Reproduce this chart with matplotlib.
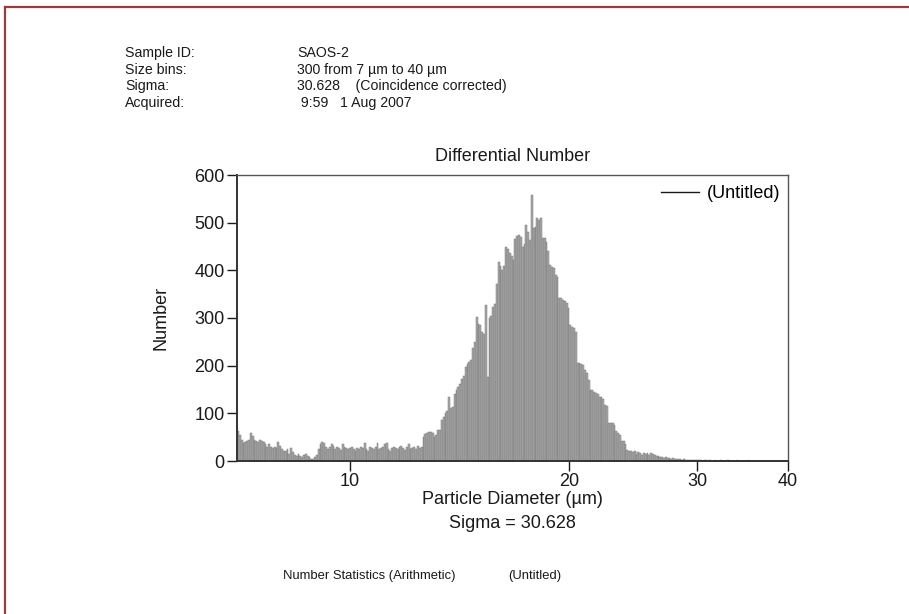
import numpy as np
import matplotlib
matplotlib.use('Agg')
import matplotlib.pyplot as plt
from matplotlib.lines import Line2D
from matplotlib.ticker import FixedLocator, NullLocator

plt.rcParams['font.family'] = ['Liberation Sans', 'DejaVu Sans']

# header info
hdr_keys = ['Sample ID:', 'Size bins:', 'Sigma:', 'Acquired:']
hdr_vals = ['SAOS-2', '300 from 7 \u00b5m to 40 \u00b5m',
            '30.628    (Coincidence corrected)', ' 9:59   1 Aug 2007']

# size bins (log spaced, 300 from 7 to 40 um)
d_min = 7.0
d_max = 40.0
n_bins = 300

# counts per bin
low_part = [62, 55, 45, 38, 40, 42,
            45, 58, 52, 45, 42,
            40, 45, 42, 40, 35, 30, 35, 30, 28,
            30, 28, 40, 32, 25, 20, 22, 25,
            15, 28, 18, 12, 10,
            15, 10, 8, 12, 15, 10, 8, 5, 5,
            8, 12, 25, 35, 40, 38, 30,
            25, 30, 35, 32, 25, 30, 28, 24,
            35, 30, 28, 25, 28, 30, 25, 22, 28,
            25, 30, 28, 38, 25, 22, 30, 27, 25,
            30, 38, 25, 28, 30, 35, 38, 25, 22, 28,
            30, 28, 25, 30, 32, 28, 24, 30, 35, 25, 28, 30, 25, 32, 27, 30]
rise_part = [50, 57, 58, 60, 60, 58, 50, 55, 64, 66,
             85, 92, 100, 105, 134, 112, 113, 140, 148, 155,
             162, 172, 178, 198, 203, 208, 212, 238, 250, 302,
             288, 285, 271, 266, 327, 176, 300, 305, 323, 330,
             372, 417, 410]
peak_part = [401, 410, 450, 445, 437, 430, 422, 465, 471, 474,
             470, 450, 455, 495, 480, 464, 558, 488, 490, 509,
             505, 509, 467, 467, 460, 440, 411, 408, 405, 390,
             385, 341, 341, 338, 335, 331, 320, 285, 282, 278,
             270, 205, 205, 203, 201, 190, 184, 170, 149, 149,
             145, 142, 140, 135, 135, 130, 117, 115, 79, 79,
             79, 75, 62, 58, 55, 41, 41, 35, 23, 22,
             20, 18, 20, 15, 18, 16, 12, 17, 14, 16,
             12, 16, 14, 12, 10]
tail_part = [10, 8, 9, 7, 8,
             6, 7, 5, 6, 4, 5, 4, 5, 3,
             4, 3, 3, 2, 3, 2, 2, 3,
             2, 2, 1, 2, 2, 1, 2, 1, 1, 2,
             1, 1, 2, 1, 1, 1, 2, 1, 1, 1,
             1, 2, 1, 1, 1, 1, 1, 2, 1, 1,
             1, 1, 1, 0, 1, 1, 1, 0, 1, 1,
             1, 0, 1, 0, 1, 1, 0, 1, 0]
counts = np.array(low_part + rise_part + peak_part + tail_part, dtype=float)

edges = np.geomspace(d_min, d_max, len(counts) + 1)

fig = plt.figure(figsize=(9.09, 6.14), dpi=100)
W, H = 909.0, 614.0
ink = '#1a1a1a'

# dark red frame lines (left / top)
fig.add_artist(Line2D([5/W, 5/W], [0, 1 - 7/H], color='#9c3b3b', lw=1.6))
fig.add_artist(Line2D([5/W, 1], [1 - 7/H, 1 - 7/H], color='#9c3b3b', lw=1.6))

# header block
for k, (a, b) in enumerate(zip(hdr_keys, hdr_vals)):
    yy = 1 - (53 + 16.6 * k) / H
    fig.text(125/W, yy, a, fontsize=10.2, va='center', ha='left', color=ink)
    fig.text(297/W, yy, b, fontsize=10.2, va='center', ha='left', color=ink)

ax = fig.add_axes([237/W, 1 - 461/H, (788 - 237)/W, (461 - 175)/H])
ax.bar(edges[:-1], counts, width=np.diff(edges), align='edge',
       color='#a8a8a8', edgecolor='#7a7a7a', linewidth=0.35)
ax.plot([], [], color=ink, lw=1.0, label='(Untitled)')

ax.set_xscale('log')
ax.set_xlim(d_min, d_max)
ax.set_ylim(0, 600)
ax.xaxis.set_major_locator(FixedLocator([10, 20, 30, 40]))
ax.xaxis.set_minor_locator(NullLocator())
ax.set_xticklabels(['10', '20', '30', '40'])
ax.set_yticks(range(0, 601, 100))
ax.tick_params(axis='both', labelsize=13, length=7, width=1.0, colors=ink)
ax.tick_params(axis='x', pad=2)
ax.tick_params(axis='y', pad=2)

for s in ['left', 'bottom']:
    ax.spines[s].set_linewidth(1.4)
    ax.spines[s].set_color('#333333')
for s in ['top', 'right']:
    ax.spines[s].set_linewidth(1.0)
    ax.spines[s].set_color('#555555')

ax.set_title('Differential Number', fontsize=13, pad=10, color=ink)
ax.set_ylabel('Number', fontsize=13, labelpad=18, color=ink)

leg = ax.legend(loc='upper right', frameon=False, fontsize=13,
                handlelength=2.1, handletextpad=0.45, borderaxespad=0.0,
                bbox_to_anchor=(1.0, 0.99))

fig.text(512/W, 1 - 499/H, 'Particle Diameter (\u00b5m)', fontsize=13,
         ha='center', va='center', color=ink)
fig.text(512/W, 1 - 523/H, 'Sigma = 30.628', fontsize=13,
         ha='center', va='center', color=ink)

fig.text(283/W, 1 - 576/H, 'Number Statistics (Arithmetic)', fontsize=9.4,
         ha='left', va='center', color=ink)
fig.text(508/W, 1 - 576/H, '(Untitled)', fontsize=9.4,
         ha='left', va='center', color=ink)

fig.savefig('out.png', dpi=100)
